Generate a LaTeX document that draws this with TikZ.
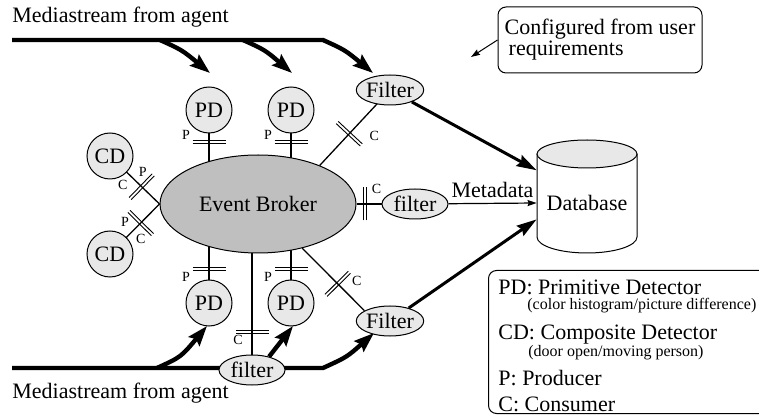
\documentclass[tikz,border=0pt]{standalone}
\usepackage{fontspec}
\setmainfont{Liberation Serif}
\usetikzlibrary{arrows.meta,shapes.geometric,decorations.markings,backgrounds}
\tikzset{
  every node/.style={font=\fontsize{11}{12}\selectfont},
  det/.style={circle,draw,line width=0.5pt,fill=gray!18,minimum size=23pt,inner sep=0pt},
  filt/.style={ellipse,draw,line width=0.5pt,fill=gray!18,minimum width=33pt,minimum height=15pt,inner sep=0pt},
  brokerstyle/.style={ellipse,draw,line width=0.5pt,fill=gray!50,minimum width=98pt,minimum height=49pt,inner sep=0pt},
  txt/.style={inner sep=0pt,anchor=base west},
  smalltxt/.style={inner sep=0pt,anchor=base west,font=\fontsize{8}{9}\selectfont},
  lab/.style={inner sep=0pt,font=\fontsize{7}{8}\selectfont},
  conn/.style={line width=0.65pt},
  dmark/.style={postaction={decorate,decoration={markings,mark=at position #1 with {\draw[line width=0.45pt] (-0.75pt,-8.25pt) -- (-0.75pt,8.25pt) (0.75pt,-8.25pt) -- (0.75pt,8.25pt);}}}},
  streamarrow/.style={line width=2.2pt,-{Stealth[length=10pt,width=7pt,inset=1.5pt]}},
  dbarrow/.style={line width=1.5pt,-{Stealth[length=10pt,width=6pt,inset=1.2pt]}},
  thinarrow/.style={line width=0.5pt,-{Stealth[length=4.5pt,width=3pt,inset=0.5pt]}},
  roundbox/.style={draw,line width=0.5pt,rounded corners=4pt,inner sep=0pt}
}
\begin{document}
\begin{tikzpicture}[x=0.5pt,y=-0.5pt]
\path[use as bounding box,clip] (0,0) rectangle (759,416);

% nodes
\node[brokerstyle] (broker) at (258,204) {Event Broker};
\node[det] (pd1) at (209,110) {PD};
\node[det] (pd2) at (291,110) {PD};
\node[det] (pd3) at (209,303) {PD};
\node[det] (pd4) at (291,303) {PD};
\node[det] (cd1) at (110,156) {CD};
\node[det] (cd2) at (110,254) {CD};
\node[filt] (fT) at (390,90) {Filter};
\node[filt] (fM) at (415,204) {filter};
\node[filt] (fBot) at (390,321) {Filter};
\node[filt] (fB) at (252,370) {filter};

% database
\draw[line width=0.5pt,fill=white] (537,154) -- (537,237) arc[start angle=180,end angle=360,x radius=25pt,y radius=8pt] -- (637,154);
\draw[line width=0.5pt,fill=gray!18] (587,154) ellipse [x radius=25pt,y radius=7pt];
\node[minimum width=50pt,minimum height=50pt,inner sep=0pt] (db) at (587,203) {Database};

% texts
\node[txt] (ms1) at (12,23) {Mediastream from agent};
\node[txt] (ms2) at (12,398) {Mediastream from agent};

% callout
\node[roundbox,minimum width=102pt,minimum height=33pt,align=left,font=\fontsize{11}{10.5}\selectfont] (cfg) at (600,40) {Configured from user\\\hspace{2pt}requirements};
\coordinate (cfgT) at (471,57);
\draw[thinarrow] (cfg.west) -- (cfgT);

% legend
\node[roundbox,minimum width=146pt,minimum height=71.5pt,anchor=north west] (legend) at (488,270) {};
\node[txt] (lg1) at (498,294) {PD: Primitive Detector};
\node[smalltxt] (lg2) at (527,309) {(color histogram/picture difference)};
\node[txt] (lg3) at (498,339) {CD: Composite Detector};
\node[smalltxt] (lg4) at (528,356) {(door open/moving person)};
\node[txt] (lg5) at (498,385) {P: Producer};
\node[txt] (lg6) at (498,411) {C: Consumer};

% stream coordinates
\coordinate (tA) at (12,40);
\coordinate (tK) at (323,40);
\coordinate (tE) at (373,73);
\coordinate (tb1s) at (160,40);
\coordinate (tb1e) at (210,73);
\coordinate (tb2s) at (243,40);
\coordinate (tb2e) at (292,73);
\coordinate (bA) at (12,368);
\coordinate (bK) at (323,368);
\coordinate (bE) at (374,333);
\coordinate (bb1s) at (157,368);
\coordinate (bb1e) at (207,326);
\coordinate (bb2e) at (293,326);

\begin{pgfonlayer}{background}
% streams
\draw[streamarrow] (tA) -- (tK) .. controls (345,50) .. (tE);
\draw[streamarrow] (tb1s) .. controls (182,50) .. (tb1e);
\draw[streamarrow] (tb2s) .. controls (265,50) .. (tb2e);
\draw[streamarrow] (bA) -- (bK) .. controls (347,357) .. (bE);
\draw[streamarrow] (bb1s) .. controls (181,357) .. (bb1e);
\draw[streamarrow] (fB.38) -- (bb2e);

% broker connectors
\draw[conn,dmark=0.335] (pd1.center) -- (pd1 |- broker.center) node[lab,pos=0.335,xshift=-11.5pt,yshift=3.25pt] (l1) {P};
\draw[conn,dmark=0.335] (pd2.center) -- (pd2 |- broker.center) node[lab,pos=0.335,xshift=-11.5pt,yshift=3.25pt] (l2) {P};
\draw[conn,dmark=0.348] (pd3.center) -- (pd3 |- broker.center) node[lab,pos=0.348,xshift=-11.5pt,yshift=-4.25pt] (l3) {P};
\draw[conn,dmark=0.348] (pd4.center) -- (pd4 |- broker.center) node[lab,pos=0.348,xshift=-11.5pt,yshift=-4.25pt] (l4) {P};
\draw[conn,dmark=0.232] (fB.center) -- (fB |- broker.center) node[lab,pos=0.232,xshift=-7pt,yshift=-4.25pt] (l5) {C};
\draw[conn,dmark=0.64] (cd1.center) -- (broker.west)
  node[lab,pos=0.64,xshift=0.5pt,yshift=7.3pt] (l6) {P}
  node[lab,pos=0.64,xshift=-9.5pt,yshift=0.8pt] (l7) {C};
\draw[conn,dmark=0.62] (cd2.center) -- (broker.west)
  node[lab,pos=0.62,xshift=-7.8pt,yshift=0.5pt] (l8) {P}
  node[lab,pos=0.62,xshift=0pt,yshift=-8pt] (l9) {C};
\draw[conn,dmark=0.58] (fT.center) -- (broker.32) node[lab,pos=0.58,xshift=12.5pt,yshift=-1pt] (l10) {C};
\draw[conn,dmark=0.147] (broker.east) -- (fM.center) node[lab,pos=0.147,xshift=5.75pt,yshift=7.5pt] (l11) {C};
\draw[conn,dmark=0.57] (broker.-45) -- (fBot.158) node[lab,pos=0.57,xshift=9.5pt,yshift=1.5pt] (l12) {C};
\end{pgfonlayer}

% outputs to database
\draw[dbarrow] (fT) -- (db.147);
\draw[dbarrow] (fBot) -- (db.198);
\draw[thinarrow,line width=0.6pt] (fM) -- (db.west) node[midway,above,inner sep=2.5pt] (meta) {Metadata};
\end{tikzpicture}
\end{document}
